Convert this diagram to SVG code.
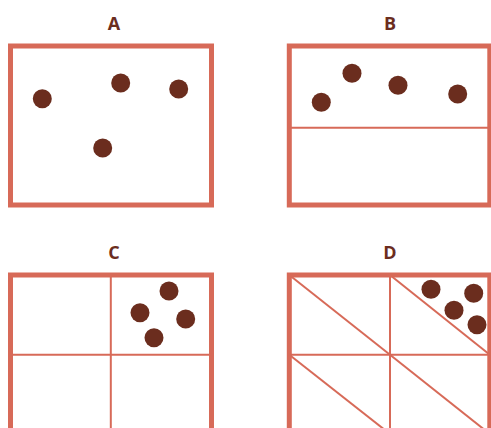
<svg xmlns="http://www.w3.org/2000/svg" width="491" height="428" viewBox="0 0 491 428">
<style>
.frame{fill:none;stroke:#d76a58;stroke-width:5}
.div{fill:none;stroke:#d76a58;stroke-width:2}
.dot{fill:#6b2d1e}
.lbl{font-family:"Open Sans","Noto Sans",sans-serif;font-weight:bold;font-size:18px;fill:#6b2d1e;text-anchor:middle}
</style>
<rect width="491" height="428" fill="#ffffff"/>
<g id="panelA">
<text class="lbl" x="114" y="30">A</text>
<rect class="frame" x="10.5" y="46" width="201" height="159"/>
<circle class="dot" cx="42.3" cy="98.7" r="9.5"/>
<circle class="dot" cx="120.7" cy="83" r="9.5"/>
<circle class="dot" cx="178.7" cy="89" r="9.5"/>
<circle class="dot" cx="102.7" cy="148" r="9.5"/>
</g>
<g id="panelB">
<text class="lbl" x="390" y="30">B</text>
<rect class="frame" x="289.3" y="46" width="200.5" height="159"/>
<line class="div" x1="289.3" y1="127.7" x2="489.8" y2="127.7"/>
<circle class="dot" cx="321.3" cy="102.3" r="9.5"/>
<circle class="dot" cx="352" cy="73.3" r="9.5"/>
<circle class="dot" cx="398" cy="85.3" r="9.5"/>
<circle class="dot" cx="457.7" cy="94" r="9.5"/>
</g>
<g id="panelC">
<text class="lbl" x="114" y="259">C</text>
<rect class="frame" x="10.5" y="275" width="201" height="159"/>
<line class="div" x1="10.5" y1="354.7" x2="211.5" y2="354.7"/>
<line class="div" x1="110.8" y1="275" x2="110.8" y2="434"/>
<circle class="dot" cx="169" cy="291" r="9.5"/>
<circle class="dot" cx="140" cy="312.7" r="9.5"/>
<circle class="dot" cx="185.7" cy="319" r="9.5"/>
<circle class="dot" cx="154" cy="337.7" r="9.5"/>
</g>
<g id="panelD">
<text class="lbl" x="390" y="259">D</text>
<rect class="frame" x="289.3" y="275" width="200.5" height="159"/>
<line class="div" x1="289.3" y1="354.7" x2="489.8" y2="354.7"/>
<line class="div" x1="390" y1="275" x2="390" y2="434"/>
<line class="div" x1="289.3" y1="275" x2="390" y2="354.7"/>
<line class="div" x1="390" y1="275" x2="489.8" y2="354.7"/>
<line class="div" x1="289.3" y1="354.7" x2="390" y2="434"/>
<line class="div" x1="390" y1="354.7" x2="489.8" y2="434"/>
<circle class="dot" cx="431" cy="289.3" r="9.5"/>
<circle class="dot" cx="473.7" cy="293.3" r="9.5"/>
<circle class="dot" cx="454" cy="310.3" r="9.5"/>
<circle class="dot" cx="477" cy="324.7" r="9.5"/>
</g>
</svg>
